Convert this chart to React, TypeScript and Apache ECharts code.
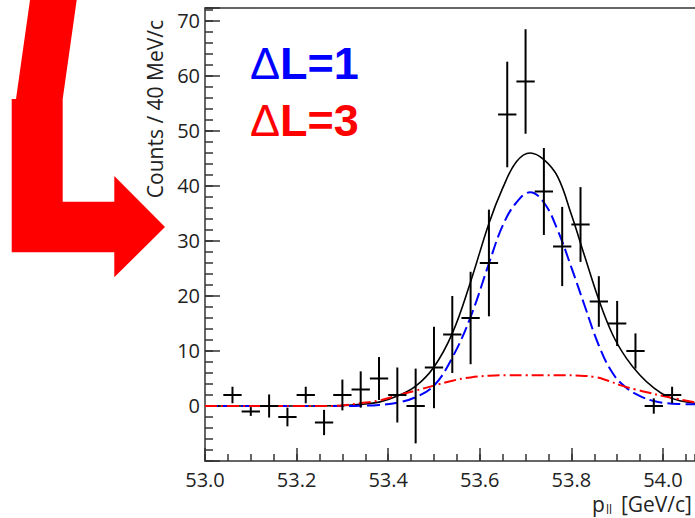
import React, { useEffect, useRef } from "react";
import * as echarts from "echarts";

// Binned data: bin centres in GeV/c (40 MeV/c bins), counts and their errors
const binCenters = [
  53.06, 53.1, 53.14, 53.18, 53.22, 53.26, 53.3, 53.34, 53.38, 53.42, 53.46, 53.5, 53.54,
  53.58, 53.62, 53.66, 53.7, 53.74, 53.78, 53.82, 53.86, 53.9, 53.94, 53.98, 54.02,
];
const counts = [2, -1, 0, -2, 2, -3, 2, 3, 5, 2, 0, 7, 13, 16, 26, 53, 59, 39, 29, 33, 19, 15, 10, 0, 2];
const countErrors = [
  1.5, 0.8, 2.1, 1.7, 1.5, 2.3, 2.8, 3.3, 3.9, 5.0, 6.8, 7.4, 7.0, 8.4, 9.7, 9.6, 9.5, 7.9, 7.2,
  6.8, 4.6, 4.1, 3.2, 1.4, 1.5,
];
const binWidth = 0.04;

// Fit curves sampled along p_ll
const fitX = [
  53.0, 53.1, 53.2, 53.3, 53.34, 53.38, 53.42, 53.46, 53.5, 53.54, 53.58, 53.62, 53.65, 53.68,
  53.71, 53.74, 53.77, 53.8, 53.83, 53.86, 53.89, 53.92, 53.95, 53.98, 54.01, 54.04, 54.07, 54.1,
];
const totalFit = [
  0, 0, 0, 0.1, 0.3, 0.7, 1.8, 3.6, 7.1, 13.2, 22.6, 33.2, 39.6, 44.4, 46.0, 44.8, 41.7, 34.8,
  27.0, 19.3, 13.0, 8.7, 5.6, 3.3, 1.7, 0.9, 0.5, 0.3,
];
const deltaL1 = [
  0, 0, 0, 0, 0.05, 0.2, 0.6, 1.6, 3.7, 8.8, 16.2, 25.9, 32.8, 37.0, 38.85, 37.0, 32.0, 25.2,
  18.0, 11.0, 6.0, 3.3, 1.8, 0.9, 0.5, 0.35, 0.3, 0.3,
];
const deltaL3X = [
  53.0, 53.1, 53.2, 53.26, 53.3, 53.34, 53.38, 53.42, 53.46, 53.5, 53.54, 53.58, 53.62, 53.66,
  53.7, 53.74, 53.78, 53.82, 53.85, 53.88, 53.91, 53.94, 53.97, 54.0, 54.03, 54.06, 54.09,
];
const deltaL3 = [
  0, 0, 0, 0, 0.1, 0.5, 1.0, 1.9, 2.8, 3.7, 4.6, 5.2, 5.5, 5.6, 5.6, 5.6, 5.6, 5.5, 5.3, 4.6,
  3.7, 3.0, 2.4, 1.8, 1.3, 0.8, 0.5,
];

// Axis ranges
const xRange = [53.0, 54.07];
const yRange = [-10, 72.36];

const labelFont = "'Open Sans', 'Noto Sans', sans-serif";
const axisColor = "#333";
const textColor = "#222";

export default function App() {
  const ref = useRef<HTMLDivElement>(null);

  useEffect(() => {
    if (!ref.current) return;
    const chart = echarts.init(ref.current, null, { renderer: "svg" });

    const tickStyle = { color: axisColor, width: 1.5 };
    const points = binCenters.map((x, i) => [x, counts[i], countErrors[i]]);
    const isStep = (v: number, step: number) => Math.abs(v / step - Math.round(v / step)) < 1e-6;

    chart.setOption({
      animation: false,
      grid: { left: 205, top: 8, width: 490, height: 453, containLabel: false, outerBoundsMode: "none" },
      xAxis: [
        {
          type: "value",
          position: "bottom",
          min: xRange[0],
          max: xRange[1],
          interval: 0.2,
          axisLine: { show: true, onZero: false, lineStyle: tickStyle },
          axisTick: { show: true, inside: true, length: 13, lineStyle: tickStyle },
          axisLabel: {
            margin: 8,
            fontSize: 20,
            fontFamily: labelFont,
            color: textColor,
            showMaxLabel: false,
            formatter: (v: number) => (isStep(v, 0.2) ? v.toFixed(1) : ""),
          },
          splitLine: { show: false },
        },
        {
          type: "value",
          position: "bottom",
          min: xRange[0],
          max: xRange[1],
          interval: 0.05,
          axisLine: { show: false, onZero: false },
          axisTick: { show: true, inside: true, length: 7, lineStyle: tickStyle },
          axisLabel: { show: false },
          splitLine: { show: false },
        },
        {
          type: "value",
          position: "top",
          min: xRange[0],
          max: xRange[1],
          axisLine: { show: true, onZero: false, lineStyle: tickStyle },
          axisTick: { show: false },
          axisLabel: { show: false },
          splitLine: { show: false },
        },
      ],
      yAxis: [
        {
          type: "value",
          position: "left",
          min: yRange[0],
          max: yRange[1],
          interval: 10,
          axisLine: { show: true, onZero: false, lineStyle: tickStyle },
          axisTick: { show: true, inside: true, length: 15, lineStyle: tickStyle },
          axisLabel: {
            margin: 5,
            fontSize: 20,
            fontFamily: labelFont,
            color: textColor,
            formatter: (v: number) => (v < 0 || !isStep(v, 10) ? "" : String(Math.round(v))),
          },
          splitLine: { show: false },
        },
        {
          type: "value",
          position: "left",
          min: yRange[0],
          max: yRange[1],
          interval: 2,
          axisLine: { show: false, onZero: false },
          axisTick: { show: true, inside: true, length: 8, lineStyle: tickStyle },
          axisLabel: { show: false },
          splitLine: { show: false },
        },
      ],
      series: [
        {
          name: "fit",
          type: "line",
          xAxisIndex: 0,
          yAxisIndex: 0,
          data: fitX.map((x, i) => [x, totalFit[i]]),
          smooth: 0.4,
          showSymbol: false,
          lineStyle: { color: "#000", width: 1.6 },
          z: 2,
        },
        {
          name: "ΔL=1",
          type: "line",
          xAxisIndex: 0,
          yAxisIndex: 0,
          data: fitX.map((x, i) => [x, deltaL1[i]]),
          smooth: 0.4,
          showSymbol: false,
          lineStyle: { color: "#0000ff", width: 2, type: [13, 5] },
          z: 3,
        },
        {
          name: "ΔL=3",
          type: "line",
          xAxisIndex: 0,
          yAxisIndex: 0,
          data: deltaL3X.map((x, i) => [x, deltaL3[i]]),
          smooth: 0.4,
          showSymbol: false,
          lineStyle: { color: "#ff0000", width: 2, type: [12, 4, 2, 4] },
          z: 4,
        },
        {
          name: "data",
          type: "custom",
          xAxisIndex: 0,
          yAxisIndex: 0,
          data: points,
          z: 5,
          renderItem: (_params: any, api: any) => {
            const x = api.value(0);
            const y = api.value(1);
            const e = api.value(2);
            const c = api.coord([x, y]);
            const top = api.coord([x, y + e]);
            const bot = api.coord([x, y - e]);
            const l = api.coord([x - binWidth / 2, y]);
            const r = api.coord([x + binWidth / 2, y]);
            const style = { stroke: "#000", lineWidth: 2 };
            return {
              type: "group",
              children: [
                { type: "line", shape: { x1: c[0], y1: top[1], x2: c[0], y2: bot[1] }, style },
                { type: "line", shape: { x1: l[0], y1: c[1], x2: r[0], y2: c[1] }, style },
              ],
            };
          },
        },
      ],
      graphic: [
        {
          type: "polygon",
          shape: {
            points: [
              [30, 0],
              [76.7, 0],
              [62.7, 99],
              [62.7, 201.7],
              [114.3, 201.7],
              [114.3, 176],
              [165, 227],
              [114.3, 277.3],
              [114.3, 252.3],
              [11.7, 252.3],
              [11.7, 99],
              [16, 99],
            ],
          },
          style: { fill: "#ff0000" },
          z: 10,
        },
        {
          type: "text",
          x: 250,
          y: 63,
          style: {
            text: "{d|Δ}{b|L=1}",
            verticalAlign: "middle",
            align: "left",
            fill: "#0000ff",
            rich: {
              d: { fontSize: 45, fontFamily: "'Liberation Sans', Arial, sans-serif", fill: "#0000ff" },
              b: { fontSize: 45, fontWeight: "bold", fontFamily: "'Liberation Sans', Arial, sans-serif", fill: "#0000ff" },
            },
          },
          z: 10,
        },
        {
          type: "text",
          x: 250,
          y: 120,
          style: {
            text: "{d|Δ}{b|L=3}",
            verticalAlign: "middle",
            align: "left",
            fill: "#ff0000",
            rich: {
              d: { fontSize: 45, fontFamily: "'Liberation Sans', Arial, sans-serif", fill: "#ff0000" },
              b: { fontSize: 45, fontWeight: "bold", fontFamily: "'Liberation Sans', Arial, sans-serif", fill: "#ff0000" },
            },
          },
          z: 10,
        },
        {
          type: "text",
          x: 155,
          y: 20,
          rotation: Math.PI / 2,
          style: {
            text: "Counts / 40 MeV/c",
            font: `21px ${labelFont}`,
            fill: textColor,
            align: "right",
            verticalAlign: "middle",
          },
          z: 10,
        },
        {
          type: "text",
          x: 592,
          y: 504,
          style: { text: "p", font: `21px ${labelFont}`, fill: textColor, align: "left", verticalAlign: "middle" },
          z: 10,
        },
        {
          type: "text",
          x: 606,
          y: 509,
          style: { text: "ll", font: `12px ${labelFont}`, fill: textColor, align: "left", verticalAlign: "middle" },
          z: 10,
        },
        {
          type: "text",
          x: 692,
          y: 504,
          style: { text: "[GeV/c]", font: `21px ${labelFont}`, fill: textColor, align: "right", verticalAlign: "middle" },
          z: 10,
        },
      ],
    });

    return () => chart.dispose();
  }, []);

  return (
    <div
      ref={ref}
      style={{ position: "absolute", left: 0, top: 0, width: 695, height: 518, overflow: "hidden", background: "#fff" }}
    />
  );
}
